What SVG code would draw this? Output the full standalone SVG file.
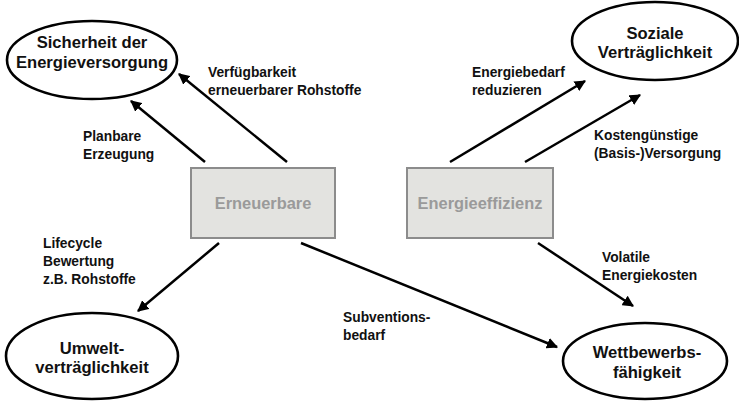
<svg xmlns="http://www.w3.org/2000/svg" width="739" height="401" viewBox="0 0 739 401">
<style>
.ell{fill:#fff;stroke:#000;stroke-width:2.6}
.box{fill:#e3e3e0;stroke:#8c8c8c;stroke-width:2}
.t{font-family:"Liberation Sans",Arial,sans-serif;font-weight:bold;fill:#111}
.nt{font-size:16.6px;text-anchor:middle}
.lb{font-size:13.8px}
.bt{font-family:"Liberation Sans",Arial,sans-serif;font-weight:bold;font-size:16.4px;fill:#9a9a9a;text-anchor:middle}
.c{stroke:#000;stroke-width:2.5;fill:none;marker-end:url(#ah)}
</style>
<defs>
<marker id="ah" viewBox="0 0 10 10" refX="9" refY="5" markerWidth="4.5" markerHeight="4.5" orient="auto" markerUnits="strokeWidth">
<path d="M0,0 L10,5 L0,10 z" fill="#000"/>
</marker>
</defs>
<rect width="739" height="401" fill="#fff"/>
<g id="connectors">
<line class="c" x1="205" y1="162" x2="131" y2="101"/>
<line class="c" x1="287" y1="162" x2="179" y2="74"/>
<line class="c" x1="450" y1="162" x2="585" y2="81"/>
<line class="c" x1="525" y1="162" x2="640" y2="95"/>
<line class="c" x1="219" y1="243" x2="138" y2="311"/>
<line class="c" x1="301" y1="243" x2="557" y2="347"/>
<line class="c" x1="538" y1="243" x2="633" y2="306"/>
</g>
<g id="node-sicherheit">
<ellipse class="ell" cx="92" cy="60" rx="85" ry="39"/>
<text class="t nt" x="92" y="48">Sicherheit der</text>
<text class="t nt" x="92" y="68">Energieversorgung</text>
</g>
<g id="node-soziale">
<ellipse class="ell" cx="655" cy="41" rx="83" ry="39"/>
<text class="t nt" x="655" y="39">Soziale</text>
<text class="t nt" x="655" y="58">Verträglichkeit</text>
</g>
<g id="node-umwelt">
<ellipse class="ell" cx="92" cy="356" rx="86" ry="43"/>
<text class="t nt" x="92" y="354">Umwelt-</text>
<text class="t nt" x="92" y="373">verträglichkeit</text>
</g>
<g id="node-wettbewerb">
<ellipse class="ell" cx="645" cy="361" rx="82" ry="38"/>
<text class="t nt" x="647" y="358">Wettbewerbs-</text>
<text class="t nt" x="647" y="378">fähigkeit</text>
</g>
<g id="node-erneuerbare">
<rect class="box" x="191" y="168" width="144" height="70"/>
<text class="bt" x="263" y="209">Erneuerbare</text>
</g>
<g id="node-energieeffizienz">
<rect class="box" x="407" y="168" width="146" height="70"/>
<text class="bt" x="480" y="209">Energieeffizienz</text>
</g>
<g id="labels">
<text class="t lb" x="208" y="77">Verfügbarkeit</text>
<text class="t lb" x="208" y="95">erneuerbarer Rohstoffe</text>
<text class="t lb" x="83" y="141">Planbare</text>
<text class="t lb" x="83" y="159">Erzeugung</text>
<text class="t lb" x="472" y="77">Energiebedarf</text>
<text class="t lb" x="472" y="95">reduzieren</text>
<text class="t lb" x="594" y="140">Kostengünstige</text>
<text class="t lb" x="594" y="158">(Basis-)Versorgung</text>
<text class="t lb" x="43" y="248">Lifecycle</text>
<text class="t lb" x="43" y="266">Bewertung</text>
<text class="t lb" x="43" y="284">z.B. Rohstoffe</text>
<text class="t lb" x="343" y="322">Subventions-</text>
<text class="t lb" x="343" y="340">bedarf</text>
<text class="t lb" x="602" y="262">Volatile</text>
<text class="t lb" x="602" y="280">Energiekosten</text>
</g>
</svg>
